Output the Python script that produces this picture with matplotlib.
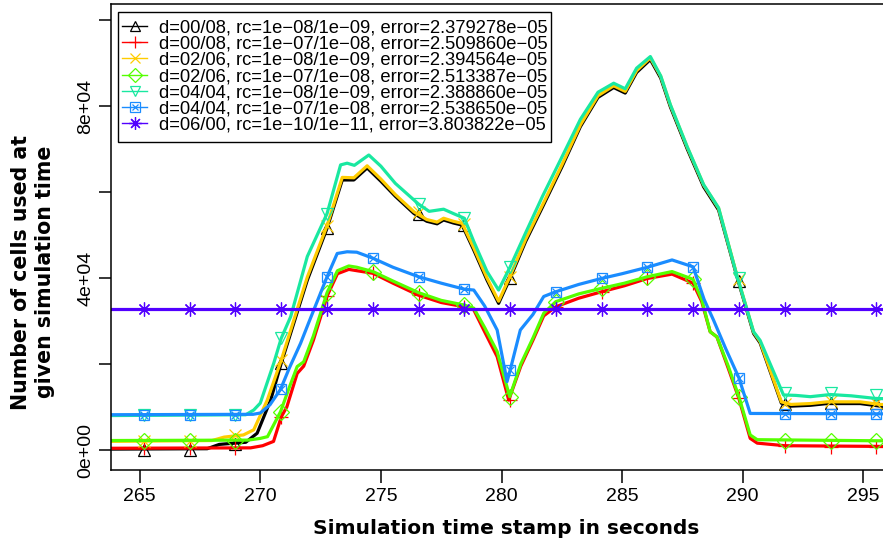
import numpy as np
import matplotlib
matplotlib.use('Agg')
import matplotlib.pyplot as plt
from matplotlib.lines import Line2D
from matplotlib.patches import Rectangle

nan = np.nan

# times at which the point symbols sit (s)
t_mark = [265.18, 267.08, 268.97, 270.87, 272.77, 274.67, 276.56, 278.46, 280.36,
          282.25, 284.15, 286.05, 287.94, 289.84, 291.74, 293.64, 295.53]

# cells used, in thousands
# d=00/08, rc=1e-08/1e-09
t_black = [263.5, 267.8, 268.3, 269.4, 269.87, 270.43, 270.87, 271.95, 272.77, 273.4,
           273.88, 274.43, 275.0, 275.6, 276.37, 276.9, 277.33, 277.6, 278.0, 278.37,
           278.85, 279.4, 279.88, 280.36, 281.0, 281.7, 282.51, 283.27, 284.0, 284.65,
           285.13, 285.6, 286.17, 286.6, 287.0, 287.7, 288.38, 289.0, 289.76, 290.45,
           290.72, 291.6, 292.0, 292.8, 293.5, 294.87, 295.7, 296.5]
n_black = [0.2, 0.3, 1.3, 1.8, 3.9, 11.6, 20.2, 39.5, 51.6, 62.8,
           62.8, 65.6, 62.5, 59.0, 55.0, 53.2, 52.6, 53.5, 52.8, 52.3,
           46.5, 39.5, 34.1, 40.0, 48.5, 56.5, 65.9, 75.2, 82.0, 84.3,
           83.0, 87.8, 90.8, 86.5, 79.8, 70.0, 61.2, 55.8, 40.3, 27.1,
           24.9, 10.9, 10.2, 10.4, 10.8, 10.8, 10.2, 10.0]
m_black = [0.0, 0.0, 1.5, 20.2, 51.6, nan, 55.0, 52.3, 40.0,
           nan, nan, nan, nan, 39.3, 10.6, 11.0, 10.9]

# d=00/08, rc=1e-07/1e-08
t_red = [263.5, 269.6, 270.1, 270.55, 270.87, 271.1, 271.53, 271.8, 272.2, 272.77,
         273.2, 273.67, 274.0, 274.67, 275.5, 276.56, 277.5, 278.46, 278.85, 279.3,
         279.82, 280.3, 280.8, 281.3, 281.75, 282.25, 283.2, 284.15, 285.1, 286.05,
         287.07, 287.94, 288.3, 288.65, 288.93, 289.4, 289.84, 290.31, 290.6, 291.74,
         296.5]
n_red = [0.4, 0.5, 1.0, 2.0, 7.7, 10.0, 17.8, 19.5, 25.5, 35.8,
         41.0, 42.0, 41.7, 41.1, 38.8, 36.0, 34.3, 33.3, 32.6, 27.5,
         21.7, 11.6, 19.5, 25.5, 31.2, 33.3, 35.3, 36.8, 38.2, 39.9,
         40.9, 38.8, 34.5, 27.5, 26.3, 19.0, 12.0, 2.7, 1.6, 1.0,
         0.8]
m_red = [0.4, 0.4, 0.4, 7.7, 35.8, 41.1, 36.0, 33.3, 11.6,
         33.3, 36.8, 39.9, 38.8, 12.0, 0.9, 0.8, 0.8]

# d=02/06, rc=1e-08/1e-09
t_yellow = [263.5, 268.0, 268.5, 269.3, 269.73, 270.29, 270.87, 271.95, 272.77, 273.4,
            273.88, 274.43, 275.0, 275.6, 276.37, 276.9, 277.33, 277.6, 278.0, 278.37,
            278.85, 279.4, 279.88, 280.36, 281.0, 281.7, 282.51, 283.27, 284.0, 284.65,
            285.13, 285.6, 286.17, 286.6, 287.0, 287.7, 288.38, 289.0, 289.76, 290.45,
            290.72, 291.6, 292.0, 292.8, 293.5, 294.87, 295.7, 296.5]
n_yellow = [2.0, 2.2, 3.0, 3.5, 4.7, 11.6, 20.9, 40.2, 52.2, 63.4,
            63.3, 66.1, 63.0, 59.4, 55.4, 53.6, 53.0, 53.9, 53.2, 52.7,
            47.0, 40.0, 34.6, 40.5, 49.0, 57.0, 66.4, 75.6, 82.4, 84.7,
            83.4, 88.2, 91.2, 86.9, 80.2, 70.4, 61.6, 56.2, 40.6, 27.4,
            25.2, 11.2, 10.6, 10.8, 11.2, 11.2, 10.6, 10.4]
m_yellow = [2.2, 2.2, 3.5, 20.9, 52.0, nan, 55.3, 52.6, 40.3,
            nan, nan, nan, nan, 39.8, 10.8, 11.4, 11.0]

# d=02/06, rc=1e-07/1e-08
t_green = [263.5, 269.5, 270.0, 270.3, 270.84, 271.2, 271.53, 271.8, 272.2, 272.77,
           273.2, 273.67, 274.0, 274.67, 275.5, 276.56, 277.5, 278.46, 278.85, 279.3,
           279.82, 280.34, 280.8, 281.3, 281.75, 282.25, 283.2, 284.15, 285.1, 286.05,
           287.07, 287.94, 288.3, 288.65, 288.93, 289.4, 289.84, 290.31, 290.6, 296.5]
n_green = [2.2, 2.3, 2.7, 3.1, 8.9, 14.5, 19.4, 20.5, 26.5, 36.6,
           41.7, 42.8, 42.5, 41.5, 39.3, 36.6, 34.8, 33.7, 33.0, 28.5,
           22.9, 12.4, 20.0, 26.0, 31.8, 34.5, 36.3, 37.6, 38.8, 40.3,
           41.5, 39.7, 35.0, 27.5, 26.3, 19.5, 12.4, 3.5, 2.4, 2.1]
m_green = [2.2, 2.2, 2.2, 8.9, 36.6, 41.5, 36.6, 33.7, 12.4,
           34.5, 37.6, 40.3, 39.7, 12.4, 2.2, 2.2, 2.2]

# d=04/04, rc=1e-08/1e-09
t_cyan = [263.5, 269.4, 269.73, 270.0, 270.56, 270.87, 271.26, 271.95, 272.77, 273.33,
          273.6, 273.9, 274.5, 275.0, 275.6, 276.56, 277.0, 277.6, 278.0, 278.46,
          278.85, 279.4, 279.88, 280.36, 281.0, 281.7, 282.51, 283.27, 284.0, 284.65,
          285.13, 285.6, 286.17, 286.6, 287.0, 287.7, 288.38, 289.0, 289.76, 290.45,
          290.72, 291.69, 292.2, 292.8, 293.64, 294.5, 295.5, 296.5]
n_cyan = [8.0, 8.2, 9.3, 10.9, 20.2, 26.0, 31.0, 45.0, 55.0, 66.3,
          66.7, 66.2, 68.6, 66.0, 62.0, 57.2, 55.5, 56.0, 55.0, 53.9,
          48.5, 41.5, 37.2, 42.6, 50.5, 59.0, 68.2, 76.9, 83.2, 85.3,
          84.0, 88.8, 91.5, 87.0, 80.3, 70.5, 61.7, 56.3, 40.5, 27.5,
          25.5, 12.8, 12.7, 12.4, 12.9, 12.6, 12.0, 11.8]
m_cyan = [8.2, 8.2, 8.2, 26.0, 55.0, nan, 57.2, 53.9, 42.6,
          nan, nan, nan, nan, 40.0, 13.3, 13.3, 12.8]

# d=04/04, rc=1e-07/1e-08
t_blue = [263.5, 269.7, 270.0, 270.4, 270.84, 271.2, 271.67, 272.0, 272.77, 273.19,
          273.6, 274.0, 274.67, 275.5, 276.56, 277.5, 278.46, 278.85, 279.3, 279.82,
          280.23, 280.36, 280.78, 281.3, 281.75, 282.25, 283.2, 284.15, 285.0, 286.05,
          287.07, 287.94, 288.4, 288.79, 289.3, 289.84, 290.31, 296.5]
n_blue = [8.2, 8.3, 8.6, 10.5, 14.1, 19.0, 24.8, 29.5, 40.3, 45.7,
          46.1, 46.0, 44.6, 42.5, 40.3, 38.8, 37.4, 37.2, 33.5, 27.9,
          15.9, 18.6, 27.9, 31.5, 35.7, 36.8, 38.5, 39.9, 41.0, 42.5,
          44.2, 42.6, 35.0, 30.2, 23.5, 16.8, 8.5, 8.4]
m_blue = [8.2, 8.2, 8.2, 14.1, 40.3, 44.6, 40.3, 37.4, 18.6,
          36.8, 39.9, 42.5, 42.6, 16.8, 8.4, 8.4, 8.4]

# d=06/00, rc=1e-10/1e-11
t_purple = [263.5, 296.5]
n_purple = [32.86, 32.86]
m_purple = [32.86] * 17

labels = ['d=00/08, rc=1e\u221208/1e\u221209, error=2.379278e\u221205',
          'd=00/08, rc=1e\u221207/1e\u221208, error=2.509860e\u221205',
          'd=02/06, rc=1e\u221208/1e\u221209, error=2.394564e\u221205',
          'd=02/06, rc=1e\u221207/1e\u221208, error=2.513387e\u221205',
          'd=04/04, rc=1e\u221208/1e\u221209, error=2.388860e\u221205',
          'd=04/04, rc=1e\u221207/1e\u221208, error=2.538650e\u221205',
          'd=06/00, rc=1e\u221210/1e\u221211, error=3.803822e\u221205']

colors = ['#000000', '#ff0000', '#ffcc00', '#55ff00', '#19e8a0', '#1a8cff', '#5200ff']
marks = ['^', '+', 'x', 'D', 'v', 's', (8, 2, 0)]
msizes = [8.5, 10, 8, 8, 8.5, 7.5, 10]

series = [(t_black, n_black, m_black), (t_red, n_red, m_red),
          (t_yellow, n_yellow, m_yellow), (t_green, n_green, m_green),
          (t_cyan, n_cyan, m_cyan), (t_blue, n_blue, m_blue),
          (t_purple, n_purple, m_purple)]

plt.rcParams['font.family'] = ['Liberation Sans', 'DejaVu Sans']

fig = plt.figure(figsize=(8.83, 5.43), dpi=100)
ax = fig.add_axes([110.7/883, 73/543, 781.6/883, 466/543])

for i, (t, n, m) in enumerate(series):
    c = colors[i]
    ax.plot(t, np.array(n)*1000, color=c, lw=2.3, solid_joinstyle='round')
    ax.plot(t_mark, np.array(m)*1000, ls='none', marker=marks[i], ms=msizes[i],
            mfc='none', mec=c, mew=0.9)
    if i == 5:
        ax.plot(t_mark, np.array(m)*1000, ls='none', marker='x', ms=5.5,
                mec=c, mew=0.9)

ax.set_xlim(263.8, 296.2)
ax.set_ylim(-4650, 103720)
ax.set_xticks([265, 270, 275, 280, 285, 290, 295])
ax.set_yticks([0, 20000, 40000, 60000, 80000, 100000])
ax.set_yticklabels(['0e+00', '', '4e+04', '', '8e+04', ''], rotation=90, va='center')
ax.tick_params(axis='both', direction='out', length=9, width=1.1, labelsize=14)
ax.tick_params(axis='x', pad=4)
ax.tick_params(axis='y', pad=3)
for s in ax.spines.values():
    s.set_linewidth(1.1)

# legend: entries without frame, box drawn separately
handles = []
for i in range(7):
    h = Line2D([], [], color=colors[i], lw=1, marker=marks[i], ms=msizes[i] - 1,
               mfc='none', mec=colors[i], mew=0.9)
    if i == 5:
        h = (h, Line2D([], [], ls='none', marker='x', ms=5, mec=colors[i], mew=0.9))
    handles.append(h)
leg = ax.legend(handles, labels, loc='upper left',
                bbox_to_anchor=(121.7/883, 1 - 19.5/543), bbox_transform=fig.transFigure,
                borderaxespad=0, borderpad=0, fontsize=13.2, labelspacing=-0.045,
                handlelength=1.4, handletextpad=0.62, frameon=False)
leg.set_zorder(6)
ax.add_patch(Rectangle((118.3/883, 1 - 141.7/543), (551 - 118.3)/883, 130/543,
                       transform=fig.transFigure, facecolor='white',
                       edgecolor='black', lw=1.0, zorder=5, clip_on=False))

fig.text(506/883, 14/543, 'Simulation time stamp in seconds', ha='center', va='center',
         fontsize=14.5, fontweight='bold', family='DejaVu Sans')
fig.text(33/883, 1 - 272/543, 'Number of cells used at\ngiven simulation time',
         rotation=90, ha='center', va='center', multialignment='center',
         fontsize=14.8, fontweight='bold', family='DejaVu Sans', linespacing=1.3)

fig.savefig('out.png', dpi=100)
